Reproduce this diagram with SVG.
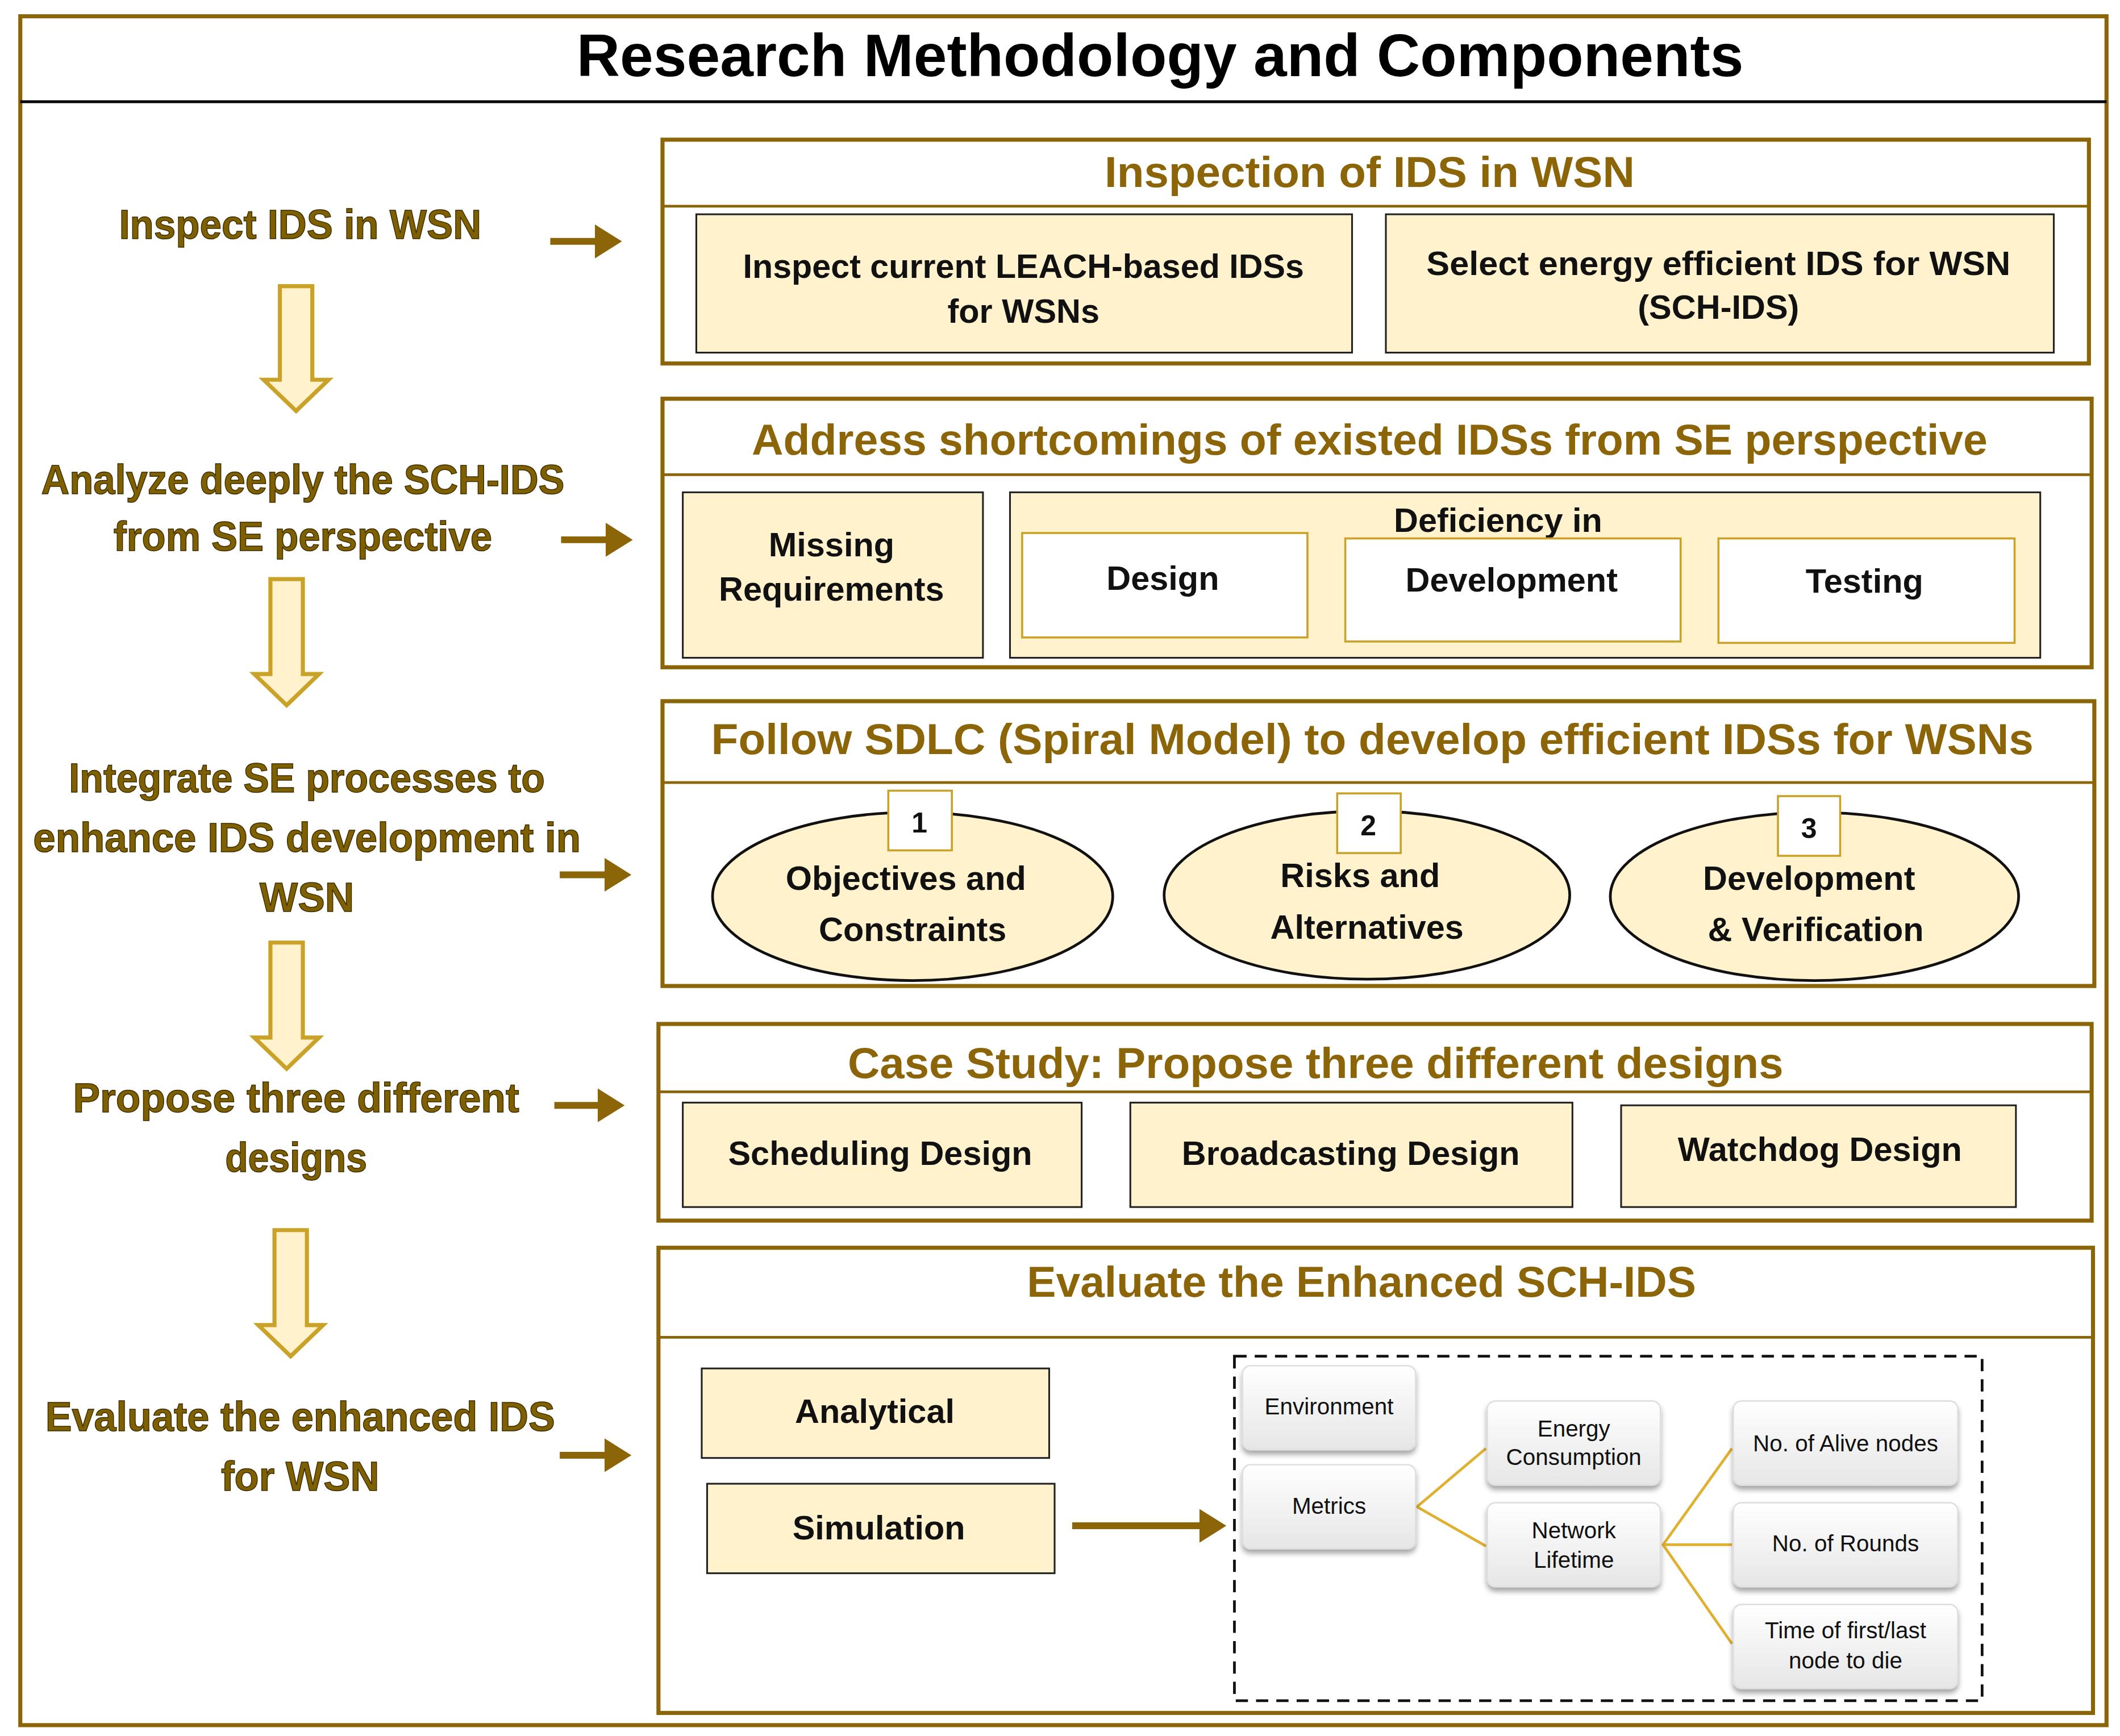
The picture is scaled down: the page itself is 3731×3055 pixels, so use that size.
<svg xmlns="http://www.w3.org/2000/svg" width="3731" height="3055" viewBox="0 0 3731 3055">
<style>
text{font-family:"Liberation Sans",Arial,sans-serif;font-weight:bold;text-anchor:middle}
.sec{fill:none;stroke:#8B6508;stroke-width:3}
.hl{stroke:#8B6508;stroke-width:2}
.ttl{fill:#8B6508;font-size:32px}
.box{fill:#FFF2CC;stroke:#222;stroke-width:1.3}
.wbox{fill:#fff;stroke:#C9A227;stroke-width:1.5}
.bt{fill:#111;font-size:25px}
.lt{fill:#7F6000;font-size:30px;stroke:#3a2a00;stroke-width:0.6}
.ra{stroke:#8B6508;stroke-width:5;marker-end:url(#ah)}
.da{fill:#FFF2CC;stroke:#C9A227;stroke-width:3}
.mb{fill:url(#gr);stroke:#ddd;stroke-width:1;filter:url(#sh)}
.mt{fill:#111;font-size:17px;font-weight:normal}
.tree{stroke:#E0B030;stroke-width:2;fill:none}
</style>
<defs>
<marker id="ah" markerWidth="5" markerHeight="5" refX="3" refY="2.5" orient="auto" markerUnits="strokeWidth"><path d="M0,0L4,2.5L0,5Z" fill="#8B6508"/></marker>
<linearGradient id="gr" x1="0" y1="0" x2="0" y2="1"><stop offset="0" stop-color="#fff"/><stop offset="1" stop-color="#e6e6e6"/></linearGradient>
<filter id="sh" x="-10%" y="-10%" width="130%" height="140%"><feDropShadow dx="0" dy="3" stdDeviation="2" flood-opacity="0.35"/></filter>
</defs>
<rect width="3731" height="3055" fill="#fff"/>
<g transform="scale(2.3795,2.3867)">
<g id="frame">
<rect x="15" y="12" width="1543" height="1260" class="sec"/>
<line x1="15" y1="75" x2="1558" y2="75" stroke="#000" stroke-width="2"/>
<text x="858" y="56" font-size="44" fill="#000" textLength="863" lengthAdjust="spacingAndGlyphs">Research Methodology and Components</text>
</g>
<g id="left">
<text class="lt" x="222" y="176" textLength="268" lengthAdjust="spacingAndGlyphs">Inspect IDS in WSN</text>
<text class="lt" x="224" y="364" textLength="387" lengthAdjust="spacingAndGlyphs">Analyze deeply the SCH-IDS</text>
<text class="lt" x="224" y="406" textLength="280" lengthAdjust="spacingAndGlyphs">from SE perspective</text>
<text class="lt" x="227" y="584" textLength="352" lengthAdjust="spacingAndGlyphs">Integrate SE processes to</text>
<text class="lt" x="227" y="628" textLength="405" lengthAdjust="spacingAndGlyphs">enhance IDS development in</text>
<text class="lt" x="227" y="672">WSN</text>
<text class="lt" x="219" y="820" textLength="330" lengthAdjust="spacingAndGlyphs">Propose three different</text>
<text class="lt" x="219" y="864" textLength="105" lengthAdjust="spacingAndGlyphs">designs</text>
<text class="lt" x="222" y="1055" textLength="377" lengthAdjust="spacingAndGlyphs">Evaluate the enhanced IDS</text>
<text class="lt" x="222" y="1099" textLength="117" lengthAdjust="spacingAndGlyphs">for WSN</text>
<polygon class="da" points="207,211 231,211 231,280 243,280 219,303 195,280 207,280"/>
<polygon class="da" points="200,427 224,427 224,497 236,497 212,520 188,497 200,497"/>
<polygon class="da" points="200,695 224,695 224,765 236,765 212,788 188,765 200,765"/>
<polygon class="da" points="203,907 227,907 227,977 239,977 215,1000 191,977 203,977"/>
</g>
<g id="connectors">
<line class="ra" x1="407" y1="178" x2="455" y2="178"/>
<line class="ra" x1="415" y1="398" x2="463" y2="398"/>
<line class="ra" x1="414" y1="645" x2="462" y2="645"/>
<line class="ra" x1="410" y1="815" x2="457" y2="815"/>
<line class="ra" x1="414" y1="1073" x2="462" y2="1073"/>
<line class="ra" x1="793" y1="1125" x2="902" y2="1125"/>
<polyline class="tree" points="1099,1068 1048,1111 1099,1140"/>
<polyline class="tree" points="1281,1068 1230,1139 1281,1212"/>
<line class="tree" x1="1230" y1="1139" x2="1281" y2="1139" stroke-width="4"/>
</g>
<g id="s1">
<rect class="sec" x="490" y="103" width="1055" height="165"/>
<line class="hl" x1="490" y1="152" x2="1545" y2="152"/>
<text class="ttl" x="1013" y="138" textLength="392" lengthAdjust="spacingAndGlyphs">Inspection of IDS in WSN</text>
<rect class="box" x="515" y="158" width="485" height="102"/>
<text class="bt" x="757" y="205" textLength="415" lengthAdjust="spacingAndGlyphs">Inspect current LEACH-based IDSs</text>
<text class="bt" x="757" y="238">for WSNs</text>
<rect class="box" x="1025" y="158" width="494" height="102"/>
<text class="bt" x="1271" y="203" textLength="432" lengthAdjust="spacingAndGlyphs">Select energy efficient IDS for WSN</text>
<text class="bt" x="1271" y="235">(SCH-IDS)</text>
</g>
<g id="s2">
<rect class="sec" x="490" y="294" width="1057" height="198"/>
<line class="hl" x1="490" y1="350" x2="1547" y2="350"/>
<text class="ttl" x="1013" y="335" textLength="914" lengthAdjust="spacingAndGlyphs">Address shortcomings of existed IDSs from SE perspective</text>
<rect class="box" x="505" y="363" width="222" height="122"/>
<text class="bt" x="615" y="410">Missing</text>
<text class="bt" x="615" y="443">Requirements</text>
<rect class="box" x="747" y="363" width="762" height="122"/>
<text class="bt" x="1108" y="392">Deficiency in</text>
<rect class="wbox" x="756" y="393" width="211" height="77"/>
<text class="bt" x="860" y="435">Design</text>
<rect class="wbox" x="995" y="397" width="248" height="76"/>
<text class="bt" x="1118" y="436">Development</text>
<rect class="wbox" x="1271" y="397" width="219" height="77"/>
<text class="bt" x="1379" y="437">Testing</text>
</g>
<g id="s3">
<rect class="sec" x="490" y="517" width="1059" height="210"/>
<line class="hl" x1="490" y1="577" x2="1549" y2="577"/>
<text class="ttl" x="1015" y="556" textLength="978" lengthAdjust="spacingAndGlyphs">Follow SDLC (Spiral Model) to develop efficient IDSs for WSNs</text>
<ellipse cx="675" cy="661" rx="148" ry="62" fill="#FFF2CC" stroke="#111" stroke-width="2"/>
<ellipse cx="1011" cy="660" rx="150" ry="62" fill="#FFF2CC" stroke="#111" stroke-width="2"/>
<ellipse cx="1342" cy="661" rx="151" ry="62" fill="#FFF2CC" stroke="#111" stroke-width="2"/>
<text class="bt" x="670" y="656">Objectives and</text>
<text class="bt" x="675" y="694">Constraints</text>
<text class="bt" x="1006" y="654">Risks and</text>
<text class="bt" x="1011" y="692">Alternatives</text>
<text class="bt" x="1338" y="656">Development</text>
<text class="bt" x="1343" y="694">&amp; Verification</text>
<rect class="wbox" x="657" y="583" width="47" height="44"/>
<text x="680" y="614" font-size="21" font-weight="normal" fill="#111">1</text>
<rect class="wbox" x="989" y="585" width="47" height="44"/>
<text x="1012" y="616" font-size="21" font-weight="normal" fill="#111">2</text>
<rect class="wbox" x="1315" y="587" width="46" height="44"/>
<text x="1338" y="618" font-size="21" font-weight="normal" fill="#111">3</text>
</g>
<g id="s4">
<rect class="sec" x="487" y="755" width="1060" height="145"/>
<line class="hl" x1="487" y1="805" x2="1547" y2="805"/>
<text class="ttl" x="973" y="795" textLength="692" lengthAdjust="spacingAndGlyphs">Case Study: Propose three different designs</text>
<rect class="box" x="505" y="813" width="295" height="77"/>
<text class="bt" x="651" y="859">Scheduling Design</text>
<rect class="box" x="836" y="813" width="327" height="77"/>
<text class="bt" x="999" y="859">Broadcasting Design</text>
<rect class="box" x="1199" y="815" width="292" height="75"/>
<text class="bt" x="1346" y="856">Watchdog Design</text>
</g>
<g id="s5">
<rect class="sec" x="487" y="920" width="1061" height="343"/>
<line class="hl" x1="487" y1="986" x2="1548" y2="986"/>
<text class="ttl" x="1007" y="956" textLength="495" lengthAdjust="spacingAndGlyphs">Evaluate the Enhanced SCH-IDS</text>
<rect class="box" x="519" y="1009" width="257" height="66"/>
<text class="bt" x="647" y="1049">Analytical</text>
<rect class="box" x="523" y="1094" width="257" height="66"/>
<text class="bt" x="650" y="1135">Simulation</text>
<rect x="913" y="1000" width="553" height="254" fill="none" stroke="#111" stroke-width="2" stroke-dasharray="9,6"/>
</g>
<g id="metrics">
<rect class="mb" x="919" y="1007" width="128" height="62" rx="6"/>
<text class="mt" x="983" y="1043">Environment</text>
<rect class="mb" x="919" y="1080" width="128" height="62" rx="6"/>
<text class="mt" x="983" y="1116">Metrics</text>
<rect class="mb" x="1100" y="1033" width="128" height="62" rx="6"/>
<text class="mt" x="1164" y="1059">Energy</text>
<text class="mt" x="1164" y="1080">Consumption</text>
<rect class="mb" x="1100" y="1108" width="128" height="62" rx="6"/>
<text class="mt" x="1164" y="1134">Network</text>
<text class="mt" x="1164" y="1156">Lifetime</text>
<rect class="mb" x="1282" y="1033" width="166" height="62" rx="6"/>
<text class="mt" x="1365" y="1070">No. of Alive nodes</text>
<rect class="mb" x="1282" y="1108" width="166" height="62" rx="6"/>
<text class="mt" x="1365" y="1144">No. of Rounds</text>
<rect class="mb" x="1282" y="1183" width="166" height="62" rx="6"/>
<text class="mt" x="1365" y="1208">Time of first/last</text>
<text class="mt" x="1365" y="1230">node to die</text>
</g>
</g>
</svg>
